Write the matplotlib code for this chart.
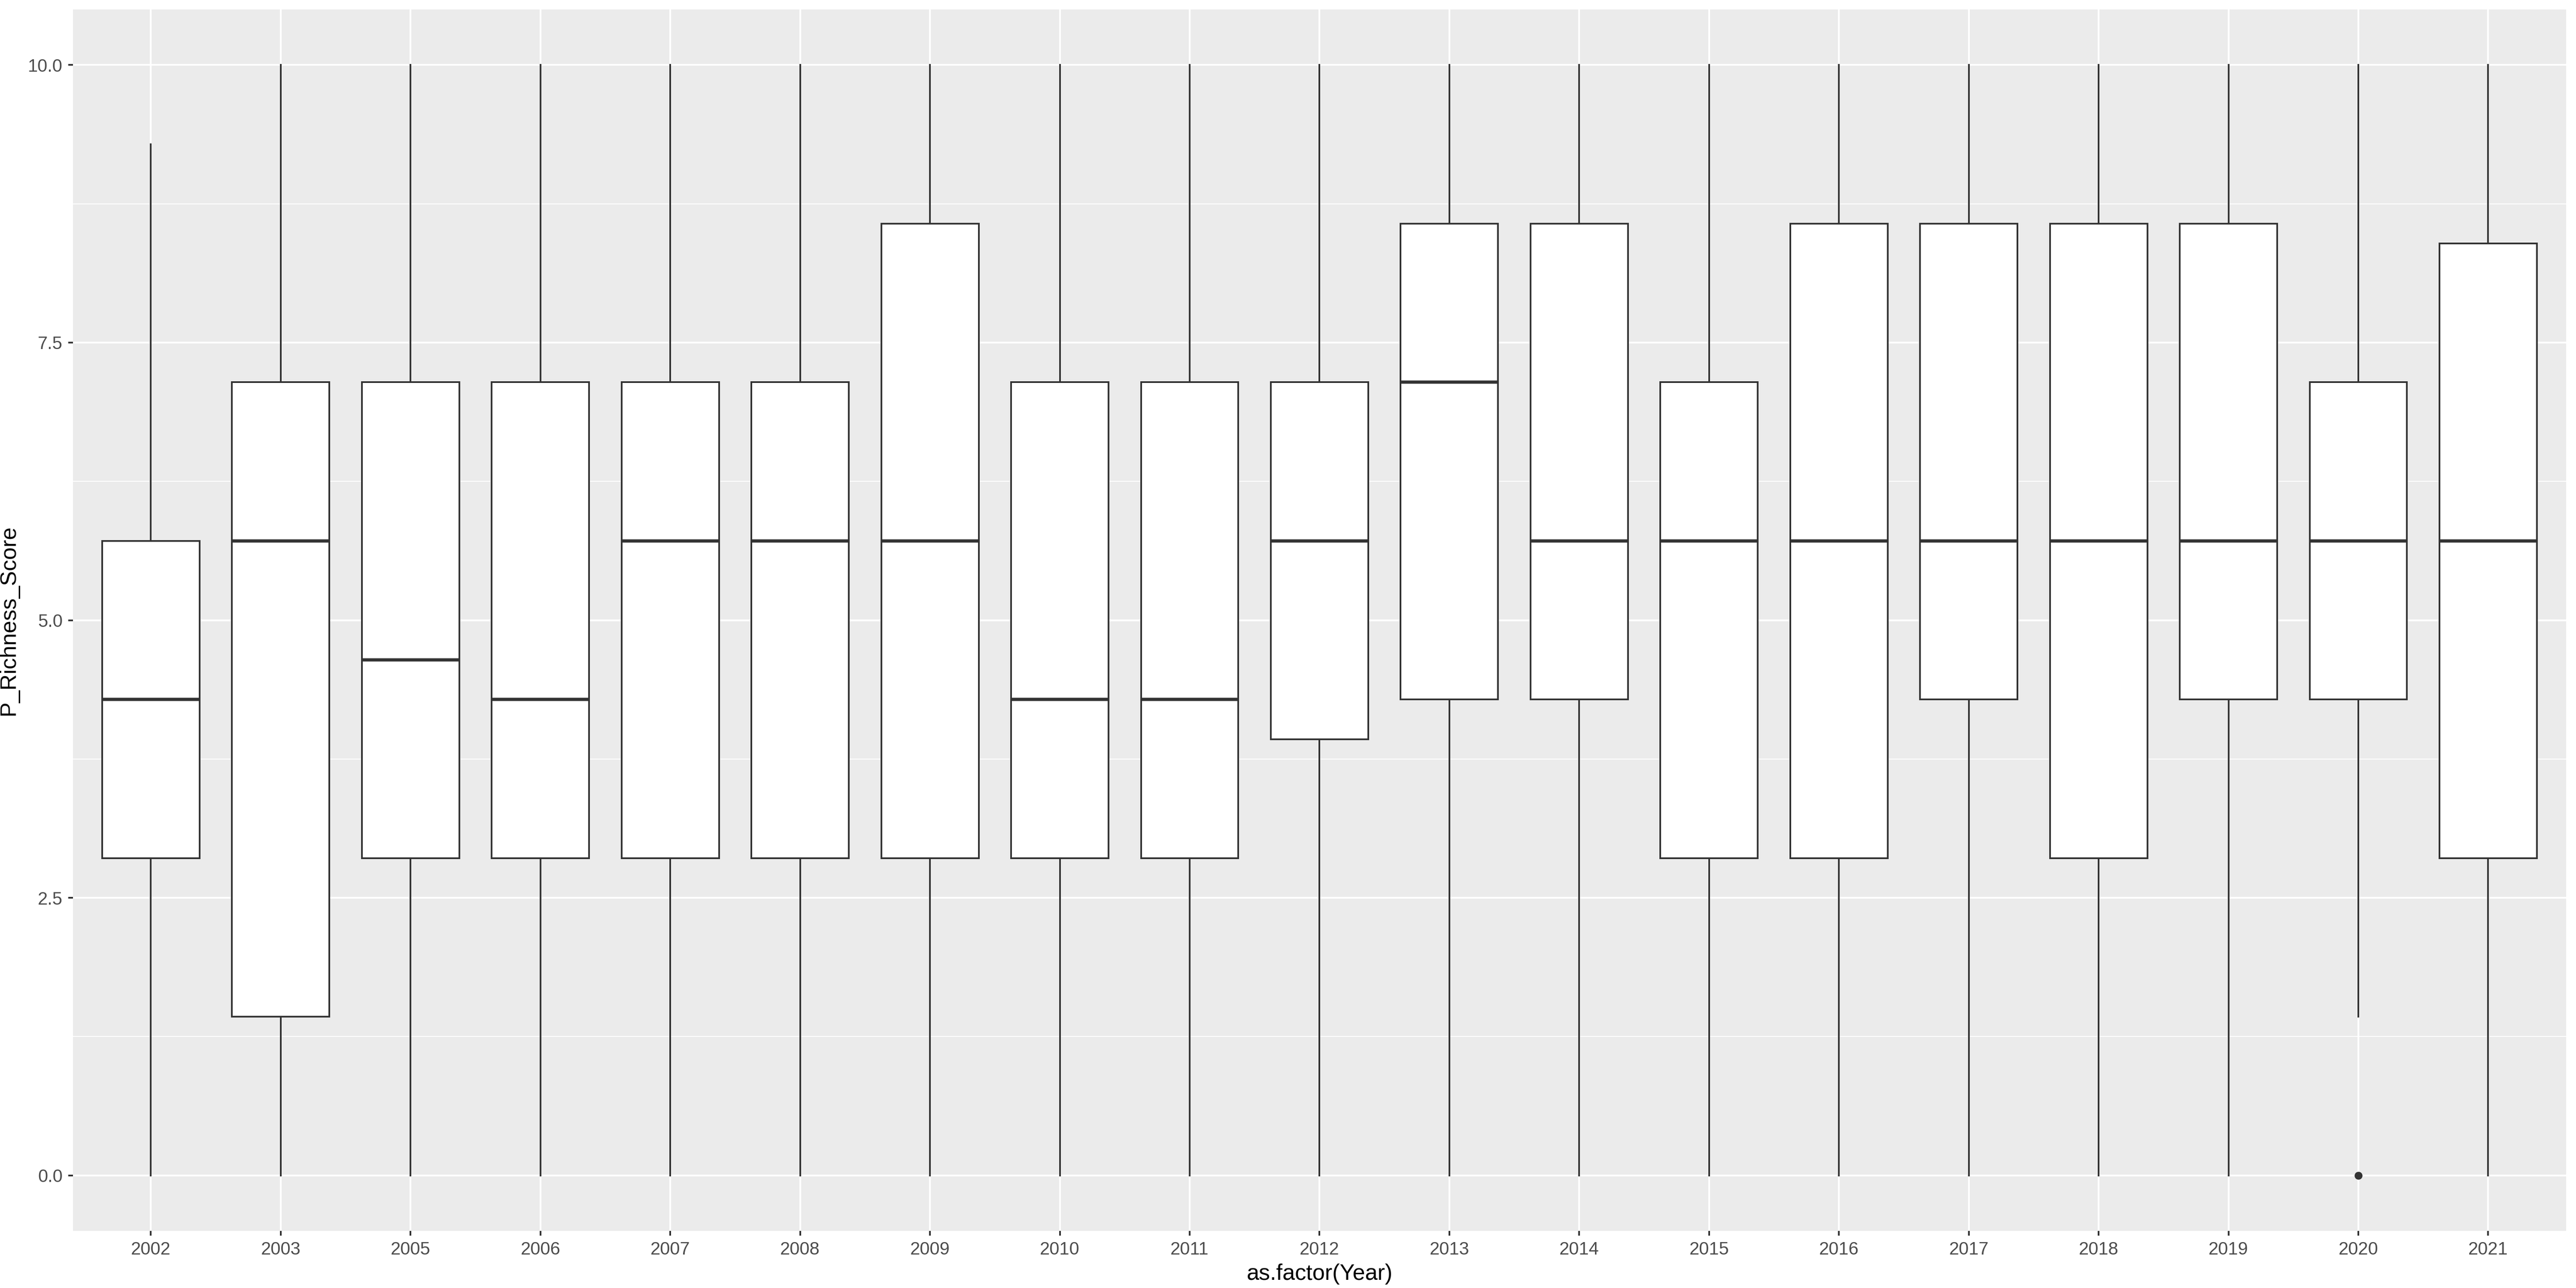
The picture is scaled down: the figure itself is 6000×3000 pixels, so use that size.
import numpy as np
import matplotlib.pyplot as plt
from matplotlib.ticker import FixedLocator

plt.rcParams['font.family'] = ['Liberation Sans', 'DejaVu Sans']

years = ['2002', '2003', '2005', '2006', '2007', '2008', '2009', '2010', '2011', '2012',
         '2013', '2014', '2015', '2016', '2017', '2018', '2019', '2020', '2021']
whislo = [0, 0, 0, 0, 0, 0, 0, 0, 0, 0, 0, 0, 0, 0, 0, 0, 0, 1.429, 0]
q1 = [2.857, 1.429, 2.857, 2.857, 2.857, 2.857, 2.857, 2.857, 2.857, 3.929,
      4.286, 4.286, 2.857, 2.857, 4.286, 2.857, 4.286, 4.286, 2.857]
med = [4.286, 5.714, 4.643, 4.286, 5.714, 5.714, 5.714, 4.286, 4.286, 5.714,
       7.143, 5.714, 5.714, 5.714, 5.714, 5.714, 5.714, 5.714, 5.714]
q3 = [5.714, 7.143, 7.143, 7.143, 7.143, 7.143, 8.571, 7.143, 7.143, 7.143,
      8.571, 8.571, 7.143, 8.571, 8.571, 8.571, 8.571, 7.143, 8.393]
whishi = [9.286, 10, 10, 10, 10, 10, 10, 10, 10, 10,
          10, 10, 10, 10, 10, 10, 10, 10, 10]
outliers = {'2020': [0.0]}

stats = []
for i, yr in enumerate(years):
    stats.append({'label': yr, 'whislo': whislo[i], 'q1': q1[i], 'med': med[i],
                  'q3': q3[i], 'whishi': whishi[i], 'fliers': outliers.get(yr, [])})

fig = plt.figure(figsize=(20, 10), dpi=300)
ax = fig.add_axes([0.02833, 0.04433, 0.96783, 0.94833])
ax.set_facecolor('#EBEBEB')

dark = '#333333'
ax.bxp(stats, positions=np.arange(1, len(years) + 1), widths=0.75, showcaps=False,
       patch_artist=True,
       boxprops=dict(facecolor='white', edgecolor=dark, linewidth=0.95),
       whiskerprops=dict(color=dark, linewidth=0.95),
       medianprops=dict(color=dark, linewidth=1.8, solid_capstyle='butt'),
       flierprops=dict(marker='o', markerfacecolor=dark, markeredgecolor=dark,
                       markersize=3.4))

ax.set_xlim(0.4, len(years) + 0.6)
ax.set_ylim(-0.5, 10.5)
ax.set_yticks([0, 2.5, 5, 7.5, 10])
ax.set_yticklabels(['0.0', '2.5', '5.0', '7.5', '10.0'])
ax.yaxis.set_minor_locator(FixedLocator([1.25, 3.75, 6.25, 8.75]))
ax.set_xticks(np.arange(1, len(years) + 1))
ax.set_xticklabels(years)

ax.set_axisbelow(True)
ax.grid(which='major', color='white', linewidth=1.0)
ax.grid(which='minor', axis='y', color='white', linewidth=0.5)
for s in ax.spines.values():
    s.set_visible(False)

ax.tick_params(which='major', length=2.7, width=0.95, color=dark, labelcolor='#4D4D4D',
               labelsize=10, pad=3)
ax.tick_params(which='minor', length=0)

ax.set_xlabel('as.factor(Year)', fontsize=12.5, color='black', labelpad=3)
ax.set_ylabel('P_Richness_Score', fontsize=12.5, color='black', labelpad=5)

fig.savefig('out.png', dpi=300, facecolor='white')
